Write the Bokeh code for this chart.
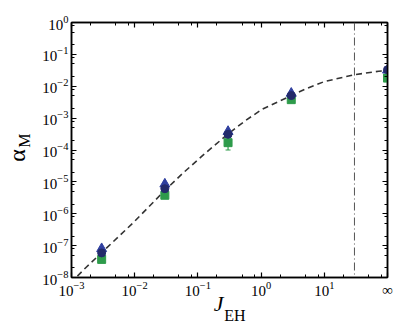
import math
from bokeh.plotting import figure
from bokeh.models import (FixedTicker, LogAxis, LogTickFormatter, CustomJSTickFormatter, Span)
from bokeh.embed import file_html
from bokeh.resources import INLINE

# ---- data ----
J_pos = [0.003, 0.03, 0.3, 3.0, 100.0]          # last position = "∞"
alpha_tri = [8.0e-8, 8.5e-6, 3.8e-4, 6.0e-3, 3.2e-2]
alpha_circ = [5.9e-8, 6.1e-6, 3.1e-4, 5.1e-3, 3.3e-2]
alpha_sq = [3.7e-8, 3.8e-6, 1.7e-4, 3.8e-3, 1.8e-2]
sq_err_x = [0.3]
sq_err_hi = [1.7e-4]
sq_err_lo = [1.0e-4]

curve_x = [0.00124, 0.00171, 0.003, 0.00964, 0.03, 0.0583, 0.126, 0.3, 0.562,
           1.04, 3.0, 5.25, 10.0, 29.5, 72.4, 100.0]
curve_y = [1.1e-8, 2.1e-8, 6.0e-8, 5.4e-7, 5.4e-6, 1.9e-5, 7.4e-5, 3.2e-4, 8.3e-4,
           1.9e-3, 5.1e-3, 8.5e-3, 1.4e-2, 2.3e-2, 2.95e-2, 3.1e-2]

J_crit = 30.0

x_ticks = [1e-3, 1e-2, 1e-1, 1e0, 1e1, 1e2]
x_tick_labels = {100.0: "∞"}
y_ticks = [1e-8, 1e-7, 1e-6, 1e-5, 1e-4, 1e-3, 1e-2, 1e-1, 1e0]

FONT = "Liberation Serif"

# frame geometry in page pixels (layout only)
FL, FR, FT, FB = 67, 387, 22, 277

def px_to_x(px):
    return 10 ** (-3 + 5.0 * (px - FL) / (FR - FL))

def py_to_y(py):
    return 10 ** (-8.0 * (py - FT) / (FB - FT))

def minors(ticks):
    out = []
    for t in ticks[:-1]:
        for m in (2, 5, 8):
            out.append(t * m)
    return out

p = figure(width=407, height=326, x_axis_type="log", y_axis_type="log",
           x_range=(1e-3, 1e2), y_range=(1e-8, 1e0),
           output_backend="svg", toolbar_location=None,
           min_border_left=FL, min_border_right=407 - FR, min_border_top=FT,
           min_border_bottom=326 - FB)
p.grid.visible = False
p.outline_line_color = "black"
p.outline_line_width = 1.5
p.background_fill_color = "white"
p.border_fill_color = "white"

def style_axis(ax, labels=True):
    ax.axis_line_width = 1.5
    ax.axis_line_color = "black"
    ax.major_tick_in = 5
    ax.major_tick_out = 0
    ax.minor_tick_in = 3
    ax.minor_tick_out = 0
    ax.major_tick_line_width = 1.2
    ax.minor_tick_line_width = 1
    ax.major_label_text_font = FONT
    ax.major_label_text_font_size = "15px"
    ax.major_label_text_color = "black"
    if not labels:
        ax.formatter = CustomJSTickFormatter(code="return ''")

p.xaxis.ticker = FixedTicker(ticks=x_ticks, minor_ticks=minors(x_ticks))
p.yaxis.ticker = FixedTicker(ticks=y_ticks, minor_ticks=minors(y_ticks))
p.xaxis.formatter = LogTickFormatter()
p.yaxis.formatter = LogTickFormatter()
p.xaxis.major_label_overrides = x_tick_labels
style_axis(p.xaxis[0])
style_axis(p.yaxis[0])
p.xaxis.major_label_standoff = 4
p.yaxis.major_label_standoff = 3

top = LogAxis(ticker=FixedTicker(ticks=x_ticks, minor_ticks=minors(x_ticks)))
style_axis(top, labels=False)
p.add_layout(top, "above")
right = LogAxis(ticker=FixedTicker(ticks=y_ticks, minor_ticks=minors(y_ticks)))
style_axis(right, labels=False)
p.add_layout(right, "right")

# axis titles, drawn as single tick labels of bare extra axes
def title_axis(pos, text, size, standoff, italic=False, vertical=False):
    ax = LogAxis(ticker=FixedTicker(ticks=[pos], minor_ticks=[]))
    ax.major_label_overrides = {pos: text}
    ax.axis_line_color = None
    ax.major_tick_line_color = None
    ax.minor_tick_line_color = None
    ax.major_tick_in = 0
    ax.major_tick_out = 0
    ax.minor_tick_in = 0
    ax.minor_tick_out = 0
    ax.major_label_standoff = standoff
    ax.major_label_text_font = FONT
    ax.major_label_text_font_size = size
    ax.major_label_text_color = "black"
    ax.major_label_text_font_style = "italic" if italic else "normal"
    if vertical:
        ax.major_label_orientation = "vertical"
    return ax

x_title_main, x_title_sub = "J", "EH"
y_title_main, y_title_sub = "α", "M"

p.add_layout(title_axis(px_to_x(216), x_title_main, "22px", -10, italic=True), "below")
p.add_layout(title_axis(px_to_x(232.5), x_title_sub, "16px", -12), "below")
p.add_layout(title_axis(py_to_y(140), y_title_sub, "16px", 7, vertical=True), "left")
p.add_layout(title_axis(py_to_y(155), y_title_main, "24px", -17, vertical=True), "left")

# vertical dash-dot line
p.add_layout(Span(location=J_crit, dimension="height", line_color="#555555",
                  line_width=1, line_dash="8 3 1 3"))

# dashed theory curve
p.line(curve_x, curve_y, line_color="#333333", line_width=1.6, line_dash="6 4")

# error bar on square
p.segment(x0=sq_err_x, y0=sq_err_lo, x1=sq_err_x, y1=sq_err_hi, line_color="#2e9b4b", line_width=1.2)
p.scatter(x=sq_err_x, y=sq_err_lo, marker="dash", size=5, line_color="#2e9b4b", line_width=1.2)

p.scatter(J_pos, alpha_sq, marker="square", size=8, fill_color="#2e9b4b", line_color="#2e9b4b")
p.scatter(J_pos, alpha_tri, marker="triangle", size=10, fill_color="#2f3f9f", line_color="#2f3f9f")
p.scatter(J_pos, alpha_circ, marker="circle", size=8, fill_color="#232a6a", line_color="#232a6a")

open("out.html", "w").write(file_html(p, INLINE))
